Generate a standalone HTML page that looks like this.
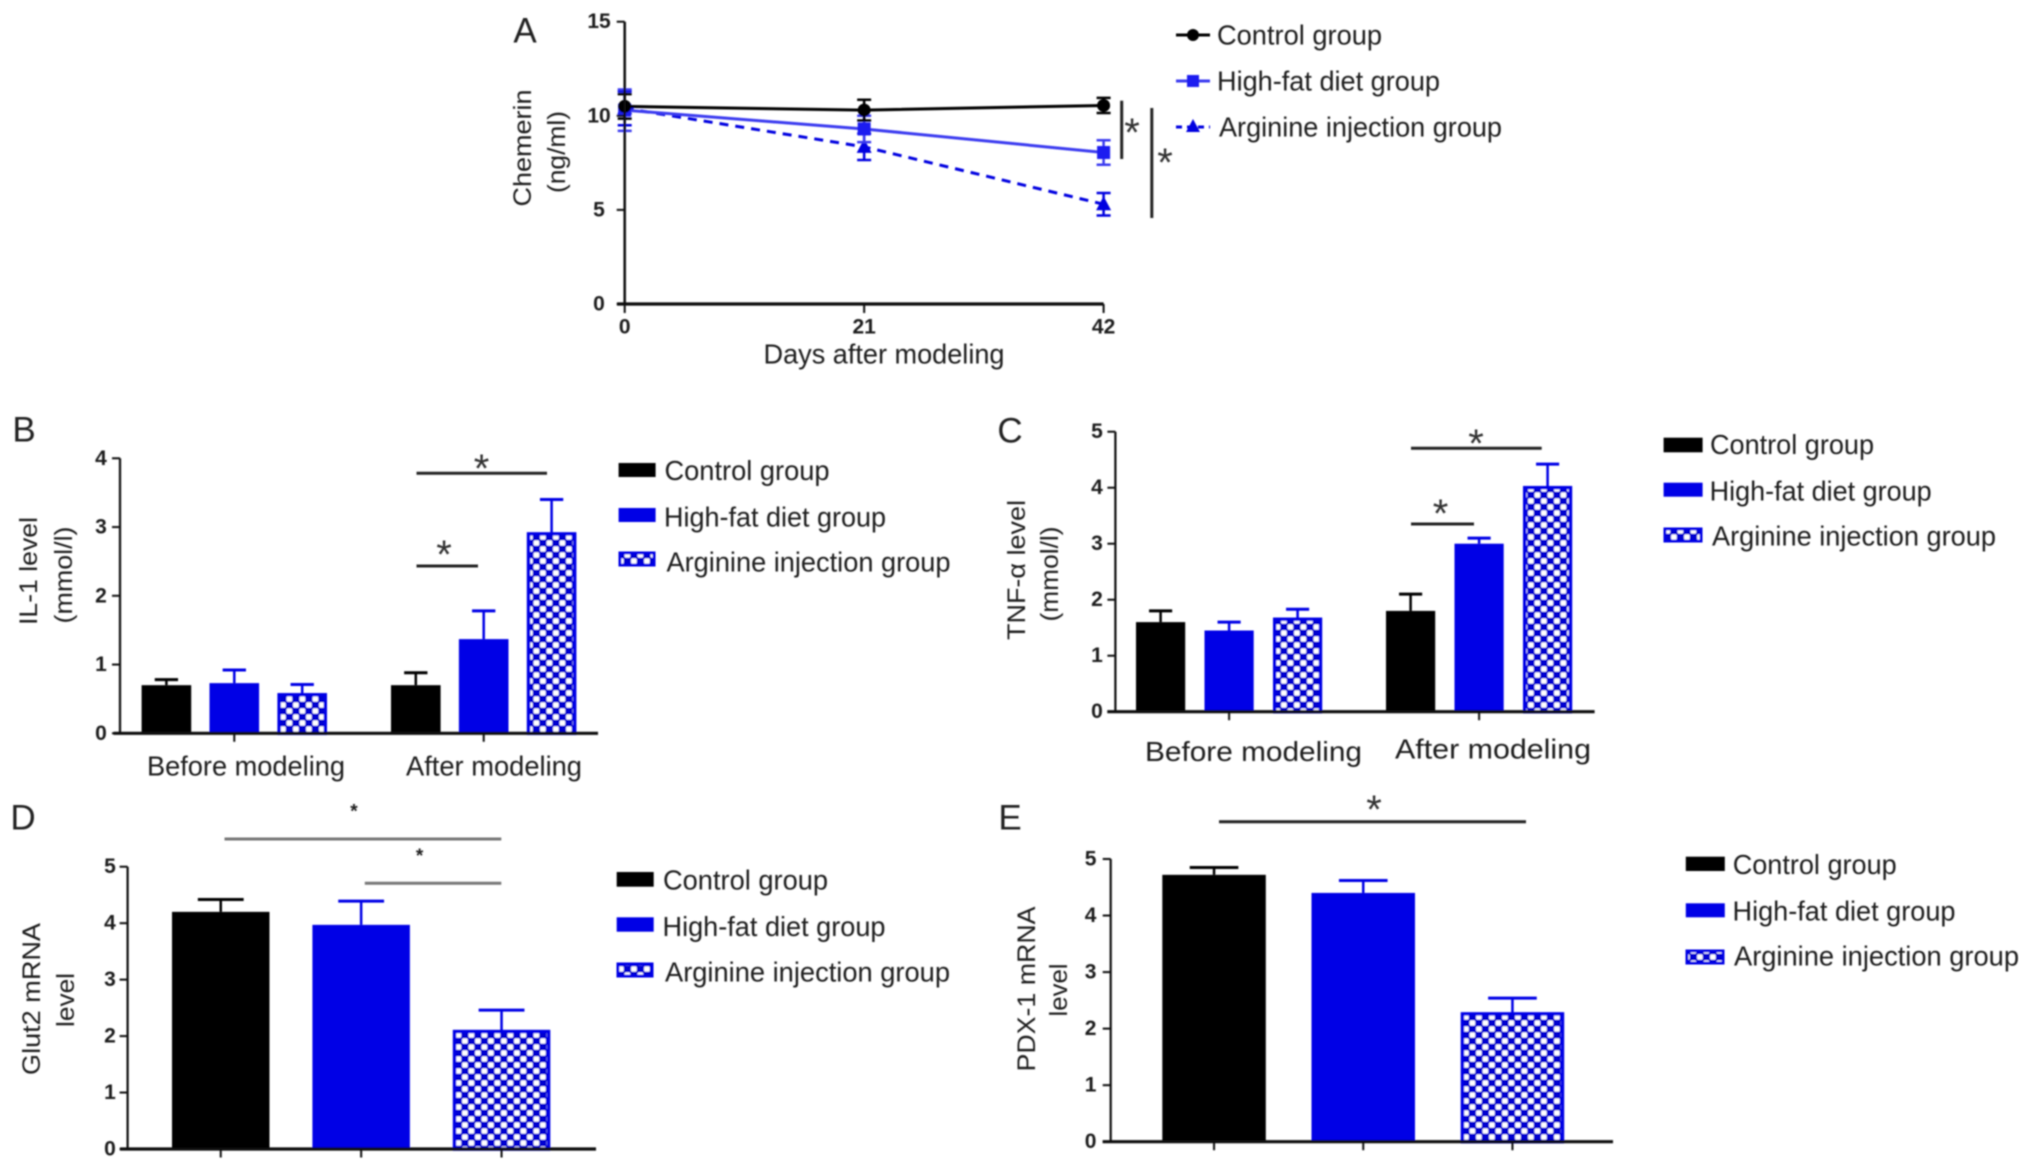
<!DOCTYPE html>
<html lang="en">
<head>
<meta charset="utf-8">
<title>Chemerin, IL-1, TNF-α, Glut2 and PDX-1 by group</title>
<style>
html,body{margin:0;padding:0;background:#fff;}
svg{display:block;}
text{font-family:"Liberation Sans",Arial,sans-serif;fill:#1c1c1c;dominant-baseline:central;}
.letter{font-size:35px;fill:#222;text-anchor:middle;}
.legend{font-size:28px;}
.title{font-size:25px;text-anchor:middle;}
.cat{font-size:28px;}
.tick{font-size:21px;font-weight:bold;text-anchor:middle;}
.star{font-size:40px;text-anchor:middle;fill:#333;}
.sig{stroke:#222;stroke-width:3;fill:none;}
</style>
</head>
<body>
<svg id="figure" xmlns="http://www.w3.org/2000/svg" width="2031" height="1175" viewBox="0 0 2031 1175">
<defs>
<filter id="soft" x="0" y="0" width="100%" height="100%"><feGaussianBlur stdDeviation="0.8"/></filter>
<pattern id="checks" patternUnits="userSpaceOnUse" width="13" height="12">
<rect width="13" height="12" fill="#0000d0"/>
<rect x="0.6" y="0.4" width="5.6" height="5.2" rx="1.4" fill="#fff"/>
<rect x="7.1" y="6.4" width="5.6" height="5.2" rx="1.4" fill="#fff"/>
</pattern>
</defs>
<rect width="2031" height="1175" fill="#fff"/>
<g id="root" filter="url(#soft)">

<!-- Panel A -->
<g id="panel-a">
<text class="letter" x="525" y="31">A</text>
<text class="title" transform="translate(523,148) rotate(-90)" textLength="117" lengthAdjust="spacingAndGlyphs">Chemerin</text>
<text class="title" transform="translate(557,152) rotate(-90)" textLength="82" lengthAdjust="spacingAndGlyphs">(ng/ml)</text>
<text class="cat" x="884" y="354" text-anchor="middle" textLength="241" lengthAdjust="spacingAndGlyphs">Days after modeling</text>
<line class="sig" x1="1121.7" y1="100.7" x2="1121.7" y2="159"/>
<text class="star" x="1132" y="133">*</text>
<line class="sig" x1="1151.8" y1="108" x2="1151.8" y2="218"/>
<text class="star" x="1165" y="163">*</text>
<g>
<line x1="1176" y1="35" x2="1210" y2="35" stroke="#000" stroke-width="3"/><circle cx="1193" cy="35" r="6" fill="#000"/>
<text class="legend" x="1217" y="35" textLength="165" lengthAdjust="spacingAndGlyphs">Control group</text>
</g>
<g>
<line x1="1176" y1="81" x2="1210" y2="81" stroke="#3a3af0" stroke-width="3"/><rect x="1187" y="75" width="12" height="12" fill="#1a1af0"/>
<text class="legend" x="1217" y="81" textLength="223" lengthAdjust="spacingAndGlyphs">High-fat diet group</text>
</g>
<g>
<line x1="1176" y1="127" x2="1210" y2="127" stroke="#0000e0" stroke-width="3" stroke-dasharray="6 5"/><polygon points="1193,119 1200,132 1186,132" fill="#0000e0"/>
<text class="legend" x="1219" y="127" textLength="283" lengthAdjust="spacingAndGlyphs">Arginine injection group</text>
</g>
</g>

<!-- Panel B -->
<g id="panel-b">
<text class="letter" x="24" y="430">B</text>
<text class="title" transform="translate(29,571) rotate(-90)" textLength="108" lengthAdjust="spacingAndGlyphs">IL-1 level</text>
<text class="title" transform="translate(64,575) rotate(-90)" textLength="97" lengthAdjust="spacingAndGlyphs">(mmol/l)</text>
<text class="cat" x="147" y="766" textLength="198" lengthAdjust="spacingAndGlyphs">Before modeling</text>
<text class="cat" x="406" y="766" textLength="176" lengthAdjust="spacingAndGlyphs">After modeling</text>
<line class="sig" x1="416.5" y1="473.3" x2="547" y2="473.3"/>
<text class="star" x="481.5" y="469">*</text>
<line class="sig" x1="416.5" y1="566" x2="478" y2="566"/>
<text class="star" x="444" y="555">*</text>
<g><rect x="618.6" y="463" width="37" height="14" fill="#000"/><text class="legend" x="664.5" y="470.7" textLength="165" lengthAdjust="spacingAndGlyphs">Control group</text></g>
<g><rect x="618.6" y="508" width="37" height="14" fill="#0000e6"/><text class="legend" x="664" y="517" textLength="222" lengthAdjust="spacingAndGlyphs">High-fat diet group</text></g>
<g><rect x="620" y="553" width="34" height="12" fill="url(#checks)" stroke="#0000e6" stroke-width="3"/><text class="legend" x="666.5" y="562" textLength="284" lengthAdjust="spacingAndGlyphs">Arginine injection group</text></g>
</g>

<!-- Panel C -->
<g id="panel-c">
<text class="letter" x="1010" y="431">C</text>
<text class="title" transform="translate(1017,570) rotate(-90)" textLength="140" lengthAdjust="spacingAndGlyphs">TNF-α level</text>
<text class="title" transform="translate(1050,574) rotate(-90)" textLength="95" lengthAdjust="spacingAndGlyphs">(mmol/l)</text>
<text class="cat" x="1145" y="751.5" textLength="217" lengthAdjust="spacingAndGlyphs">Before modeling</text>
<text class="cat" x="1395" y="749" textLength="196" lengthAdjust="spacingAndGlyphs">After modeling</text>
<line class="sig" x1="1411" y1="448.3" x2="1541.7" y2="448.3"/>
<text class="star" x="1476" y="444">*</text>
<line class="sig" x1="1411" y1="524" x2="1474" y2="524"/>
<text class="star" x="1440.5" y="514">*</text>
<g><rect x="1663.6" y="437.7" width="39" height="14.6" fill="#000"/><text class="legend" x="1710" y="444.5" textLength="164" lengthAdjust="spacingAndGlyphs">Control group</text></g>
<g><rect x="1663.6" y="482.7" width="39" height="14" fill="#0000e6"/><text class="legend" x="1709.6" y="491" textLength="222" lengthAdjust="spacingAndGlyphs">High-fat diet group</text></g>
<g><rect x="1665" y="529" width="36" height="12" fill="url(#checks)" stroke="#0000e6" stroke-width="3"/><text class="legend" x="1712" y="536" textLength="284" lengthAdjust="spacingAndGlyphs">Arginine injection group</text></g>
</g>

<!-- Panel D -->
<g id="panel-d">
<text class="letter" x="23" y="818">D</text>
<text class="title" transform="translate(32,999) rotate(-90)" textLength="152" lengthAdjust="spacingAndGlyphs">Glut2 mRNA</text>
<text class="title" transform="translate(66,1000) rotate(-90)" textLength="54" lengthAdjust="spacingAndGlyphs">level</text>
<line x1="224.5" y1="839" x2="501.3" y2="839" stroke="#777" stroke-width="3"/>
<text x="354" y="812" text-anchor="middle" font-size="19" font-weight="bold">*</text>
<line x1="364.8" y1="883.3" x2="501.3" y2="883.3" stroke="#777" stroke-width="3"/>
<text x="419.6" y="856.5" text-anchor="middle" font-size="19" font-weight="bold">*</text>
<g><rect x="616.7" y="872" width="37" height="14.7" fill="#000"/><text class="legend" x="663" y="880" textLength="165" lengthAdjust="spacingAndGlyphs">Control group</text></g>
<g><rect x="616.7" y="917.3" width="37" height="14.4" fill="#0000e6"/><text class="legend" x="662.5" y="926.5" textLength="223" lengthAdjust="spacingAndGlyphs">High-fat diet group</text></g>
<g><rect x="618" y="964" width="34" height="12" fill="url(#checks)" stroke="#0000e6" stroke-width="3"/><text class="legend" x="665" y="972" textLength="285" lengthAdjust="spacingAndGlyphs">Arginine injection group</text></g>
</g>

<!-- Panel E -->
<g id="panel-e">
<text class="letter" x="1010" y="818">E</text>
<text class="title" transform="translate(1027,989) rotate(-90)" textLength="165" lengthAdjust="spacingAndGlyphs">PDX-1 mRNA</text>
<text class="title" transform="translate(1059,990) rotate(-90)" textLength="53" lengthAdjust="spacingAndGlyphs">level</text>
<line class="sig" x1="1219" y1="821.7" x2="1526" y2="821.7"/>
<text class="star" x="1374" y="810">*</text>
<g><rect x="1685.8" y="856.7" width="39" height="14.3" fill="#000"/><text class="legend" x="1732.7" y="864.5" textLength="164" lengthAdjust="spacingAndGlyphs">Control group</text></g>
<g><rect x="1685.8" y="903.3" width="39" height="14" fill="#0000e6"/><text class="legend" x="1732.5" y="911" textLength="223" lengthAdjust="spacingAndGlyphs">High-fat diet group</text></g>
<g><rect x="1687" y="951" width="36" height="12" fill="url(#checks)" stroke="#0000e6" stroke-width="3"/><text class="legend" x="1734" y="956" textLength="285" lengthAdjust="spacingAndGlyphs">Arginine injection group</text></g>
</g>
</g>
</svg>

<script>
// Panel A data
const chemerinDays = [0, 21, 42];
const chemerinTicks = [0, 5, 10, 15];
const controlMeans = [10.5, 10.3, 10.55];
const controlErrors = [0.65, 0.55, 0.4];
const highFatMeans = [10.3, 9.3, 8.05];
const highFatErrors = [1.1, 0.7, 0.65];
const arginineMeans = [10.4, 8.35, 5.3];
const arginineErrors = [0.9, 0.7, 0.6];

// Panel B data
const il1Ticks = [0, 1, 2, 3, 4];
const il1Means = [0.7, 0.73, 0.56, 0.7, 1.37, 2.9];
const il1Tops = [0.78, 0.92, 0.71, 0.88, 1.78, 3.4];

// Panel C data
const tnfTicks = [0, 1, 2, 3, 4, 5];
const tnfMeans = [1.6, 1.45, 1.65, 1.8, 3.0, 4.0];
const tnfTops = [1.8, 1.6, 1.83, 2.1, 3.1, 4.42];

// Panel D data
const glutTicks = [0, 1, 2, 3, 4, 5];
const glutMeans = [4.2, 3.97, 2.08];
const glutTops = [4.42, 4.39, 2.46];

// Panel E data
const pdxTicks = [0, 1, 2, 3, 4, 5];
const pdxMeans = [4.72, 4.4, 2.26];
const pdxTops = [4.85, 4.62, 2.54];

const NS = 'http://www.w3.org/2000/svg';
const BLUE = '#0000e6';

function mk(parent, tag, props) {
  const node = document.createElementNS(NS, tag);
  for (const key in props) node.setAttribute(key, props[key]);
  parent.appendChild(node);
  return node;
}
function linear(d0, d1, r0, r1) {
  return function (v) { return r0 + (v - d0) * (r1 - r0) / (d1 - d0); };
}

function drawYAxis(parent, ticks, yFn, axisX, labelX, width) {
  const spine = mk(parent, 'line', {x1: axisX, x2: axisX, y1: yFn(ticks[0]), y2: yFn(ticks[ticks.length - 1]), stroke: '#111', 'stroke-width': width});
  
  
  ticks.forEach(function (t) {
    const mark = mk(parent, 'line', {x1: axisX - 8, x2: axisX, y1: yFn(t), y2: yFn(t), stroke: '#111', 'stroke-width': 2});
    
    
    const label = mk(parent, 'text', {'class': 'tick', x: labelX, y: yFn(t)});
    label.textContent = t;
    
    
  });
}

function drawBars(panelId, g) {
  const parent = document.getElementById(panelId);
  const yFn = linear(0, g.ticks[g.ticks.length - 1], g.y0, g.yTop);
  const xFn = function (i) { return g.barStart + i * g.step + Math.floor(i / g.groupSize) * g.groupGap; };
  g.means.forEach(function (m, i) {
    const series = i % 3;
    const cx = xFn(i) + g.barW / 2;
    const color = series === 0 ? '#000' : BLUE;
    const capHalf = g.barW * 0.235;
    const stem = mk(parent, 'line', {x1: cx, x2: cx, y1: yFn(m), y2: yFn(g.tops[i]), stroke: color, 'stroke-width': 2.5});
    
    
    const cap = mk(parent, 'line', {x1: cx - capHalf, x2: cx + capHalf, y1: yFn(g.tops[i]), y2: yFn(g.tops[i]), stroke: color, 'stroke-width': 3});
    
    
    const props = {x: xFn(i), y: yFn(m), width: g.barW, height: g.y0 - yFn(m)};
    if (series === 2) {
      props.fill = 'url(#checks)';
      props.stroke = BLUE;
      props['stroke-width'] = 3.5;
      props.x = xFn(i) + 1.75;
      props.width = g.barW - 3.5;
    } else {
      props.fill = color;
    }
    const bar = mk(parent, 'rect', props);
    
    
  });
  drawYAxis(parent, g.ticks, yFn, g.axisX, g.labelX, 2.2);
  const base = mk(parent, 'line', {x1: g.baseStart, x2: g.baseEnd, y1: g.y0, y2: g.y0, stroke: '#111', 'stroke-width': 3.2});
  
  
  const groups = g.means.length / g.groupSize;
  for (let k = 0; k < groups; k++) {
    const mid = k * g.groupSize + (g.groupSize - 1) / 2;
    const tx = xFn(Math.floor(mid)) + g.barW / 2;
    const tick = mk(parent, 'line', {x1: tx, x2: tx, y1: g.y0, y2: g.y0 + 8.5, stroke: '#111', 'stroke-width': 2});
    
    
  }
}

function drawLines() {
  const parent = document.getElementById('panel-a');
  const xFn = linear(0, 42, 624.7, 1103.6);
  const yFn = linear(0, 15, 304, 21.7);
  const seriesList = [
    {means: arginineMeans, errors: arginineErrors, color: '#0000e0', dash: '9 7', marker: 'triangle'},
    {means: highFatMeans, errors: highFatErrors, color: '#3a3af0', dash: '', marker: 'square'},
    {means: controlMeans, errors: controlErrors, color: '#000', dash: '', marker: 'circle'}
  ];
  seriesList.forEach(function (s) {
    const pts = s.means.map(function (m, i) { return xFn(chemerinDays[i]) + ',' + yFn(m); }).join(' ');
    const line = mk(parent, 'polyline', {points: pts, fill: 'none', stroke: s.color, 'stroke-width': 3, 'stroke-dasharray': s.dash});
    
    
    s.means.forEach(function (m, i) {
      const cx = xFn(chemerinDays[i]);
      const cy = yFn(m);
      const hi = yFn(m + s.errors[i]);
      const lo = yFn(m - s.errors[i]);
      const err = mk(parent, 'path', {d: 'M' + (cx - 7) + ' ' + hi + 'H' + (cx + 7) + 'M' + cx + ' ' + hi + 'V' + lo + 'M' + (cx - 7) + ' ' + lo + 'H' + (cx + 7), fill: 'none', stroke: s.color, 'stroke-width': 2.5});
      
      
      let mark;
      if (s.marker === 'circle') {
        mark = mk(parent, 'circle', {cx: cx, cy: cy, r: 6.5, fill: s.color});
      } else if (s.marker === 'square') {
        mark = mk(parent, 'rect', {x: cx - 6.5, y: cy - 6.5, width: 13, height: 13, fill: '#1a1af0'});
      } else {
        mark = mk(parent, 'polygon', {points: (cx) + ',' + (cy - 8) + ' ' + (cx + 7.5) + ',' + (cy + 6) + ' ' + (cx - 7.5) + ',' + (cy + 6), fill: s.color});
      }
      
      
    });
  });
  drawYAxis(parent, chemerinTicks, yFn, 624.7, 599, 2.5);
  const base = mk(parent, 'line', {x1: 617, x2: 1103.6, y1: yFn(0), y2: yFn(0), stroke: '#111', 'stroke-width': 3.2});
  
  
  chemerinDays.forEach(function (d) {
    const tick = mk(parent, 'line', {x1: xFn(d), x2: xFn(d), y1: yFn(0), y2: yFn(0) + 9, stroke: '#111', 'stroke-width': 2});
    
    
    const label = mk(parent, 'text', {'class': 'tick', x: xFn(d), y: 327});
    label.textContent = d;
    
    
  });
}

drawLines();
drawBars('panel-b', {ticks: il1Ticks, means: il1Means, tops: il1Tops, axisX: 120, labelX: 101, y0: 733.3, yTop: 458.3, baseStart: 113.5, baseEnd: 598, barStart: 141.6, barW: 49.6, step: 67.9, groupSize: 3, groupGap: 45.7});
drawBars('panel-c', {ticks: tnfTicks, means: tnfMeans, tops: tnfTops, axisX: 1115.4, labelX: 1097, y0: 711.7, yTop: 431.7, baseStart: 1107.3, baseEnd: 1594.6, barStart: 1136, barW: 49.2, step: 68.5, groupSize: 3, groupGap: 44.5});
drawBars('panel-d', {ticks: glutTicks, means: glutMeans, tops: glutTops, axisX: 127.6, labelX: 110, y0: 1149, yTop: 866.7, baseStart: 120, baseEnd: 596, barStart: 172, barW: 97.5, step: 140.4, groupSize: 1, groupGap: 0});
drawBars('panel-e', {ticks: pdxTicks, means: pdxMeans, tops: pdxTops, axisX: 1110.7, labelX: 1090.6, y0: 1141.7, yTop: 859, baseStart: 1102.7, baseEnd: 1613, barStart: 1162.3, barW: 103.5, step: 149.2, groupSize: 1, groupGap: 0});
</script>
</body>
</html>
